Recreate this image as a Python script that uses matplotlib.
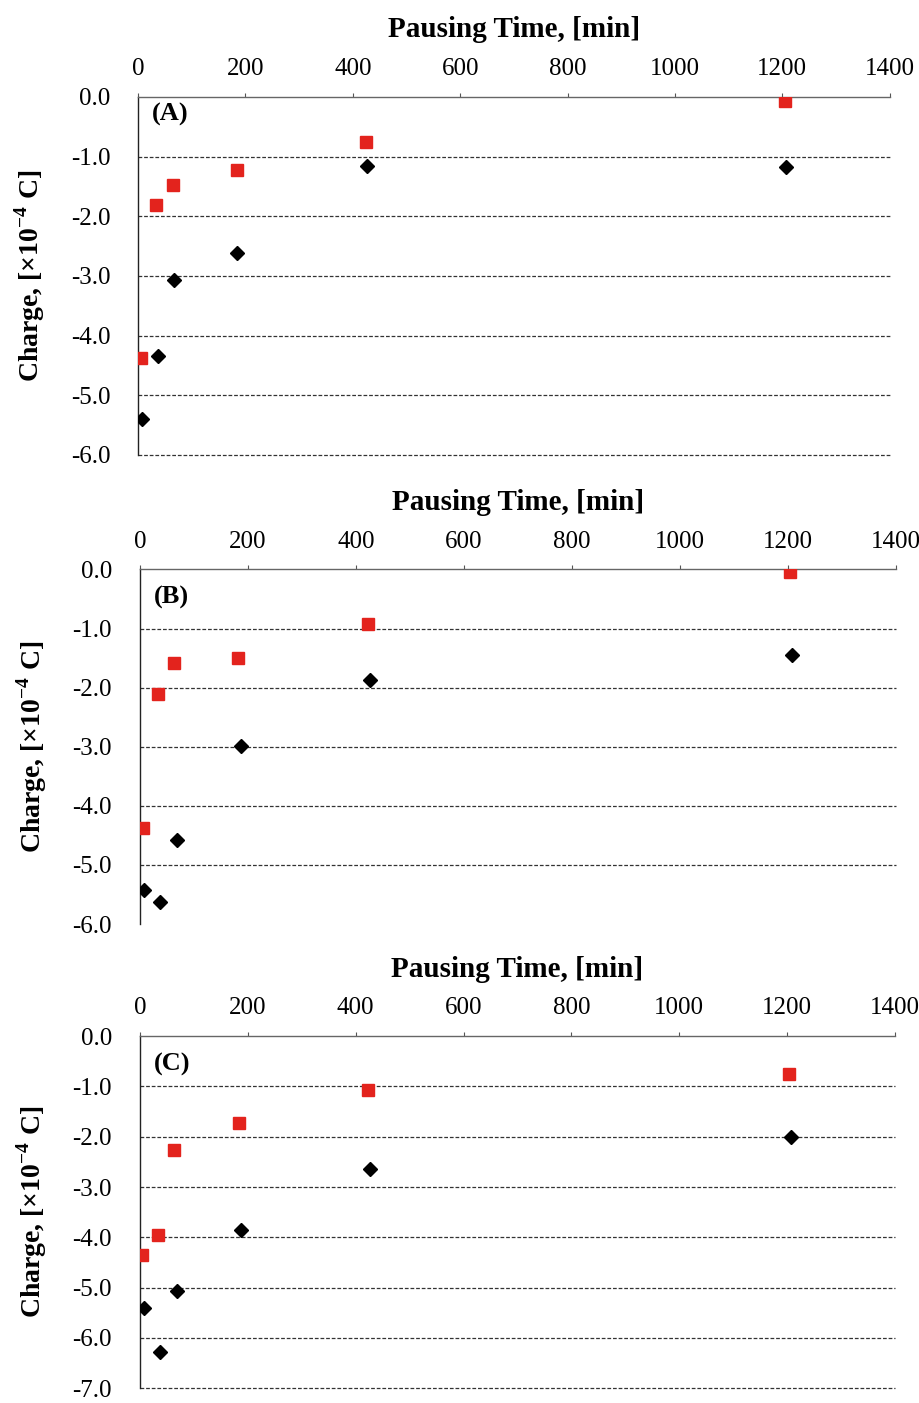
# Charge vs pausing time, three panels (A), (B), (C)
# black diamonds and red squares, x axis on top

import numpy as np
import matplotlib.pyplot as plt
from matplotlib.ticker import MultipleLocator

plt.rcParams['font.family'] = ['Liberation Serif', 'DejaVu Serif']
plt.rcParams['mathtext.fontset'] = 'custom'
plt.rcParams['mathtext.rm'] = 'Liberation Serif'
plt.rcParams['mathtext.bf'] = 'Liberation Serif:bold'

# --------------
# data
# --------------
panel_names = ['(A)', '(B)', '(C)']

# red squares
t_red_A = [6, 34, 65, 184, 425, 1205]
q_red_A = [-4.38, -1.81, -1.47, -1.22, -0.75, -0.06]
t_red_B = [5, 34, 64, 182, 423, 1204]
q_red_B = [-4.38, -2.10, -1.59, -1.49, -0.93, -0.05]
t_red_C = [4, 33, 64, 184, 423, 1203]
q_red_C = [-4.36, -3.96, -2.27, -1.73, -1.07, -0.76]

# black diamonds
t_blk_A = [7, 38, 67, 185, 427, 1207]
q_blk_A = [-5.40, -4.34, -3.07, -2.62, -1.15, -1.17]
t_blk_B = [7, 37, 69, 187, 426, 1207]
q_blk_B = [-5.42, -5.63, -4.58, -2.99, -1.87, -1.44]
t_blk_C = [7, 37, 68, 187, 427, 1207]
q_blk_C = [-5.40, -6.27, -5.06, -3.86, -2.64, -2.01]

y_bottom = [-6.0, -6.0, -7.0]
grid_levels_A = [-1, -2, -3, -4, -5, -6]
grid_levels_B = [-1, -2, -3, -4, -5]
grid_levels_C = [-1, -2, -3, -4, -5, -6, -7]

red_t = [t_red_A, t_red_B, t_red_C]
red_q = [q_red_A, q_red_B, q_red_C]
blk_t = [t_blk_A, t_blk_B, t_blk_C]
blk_q = [q_blk_A, q_blk_B, q_blk_C]
grids = [grid_levels_A, grid_levels_B, grid_levels_C]

# axes boxes in figure fraction [left, bottom, width, height]
boxes = [[0.150, 0.6757, 0.817, 0.2552],
         [0.152, 0.3414, 0.822, 0.2527],
         [0.152, 0.0105, 0.821, 0.2510]]
label_y = [0.95, 0.92, 0.92]

fig = plt.figure(figsize=(9.2, 14.03), dpi=100)

for i in range(3):
    ax = fig.add_axes(boxes[i])

    # dashed horizontal grid
    for g in grids[i]:
        ax.axhline(g, color='#333333', lw=0.9, ls=(0, (3, 1.5)), zorder=1,
                   clip_on=False)

    ax.plot(blk_t[i], blk_q[i], 'D', color='black', ms=7, zorder=3)
    ax.plot(red_t[i], red_q[i], 's', color='#e3231d', ms=8, zorder=3)

    ax.set_xlim(0, 1400)
    ax.set_ylim(y_bottom[i], 0)

    ax.xaxis.set_major_locator(MultipleLocator(200))
    ax.yaxis.set_major_locator(MultipleLocator(1.0))
    ax.yaxis.set_major_formatter(plt.FormatStrFormatter('%.1f'))

    ax.xaxis.tick_top()
    ax.xaxis.set_label_position('top')
    ax.tick_params(axis='x', direction='out', length=3, width=0.8,
                   color='#555555', pad=9, labelsize=18)
    ax.tick_params(axis='y', length=0, pad=20, labelsize=18)

    ax.spines['right'].set_visible(False)
    ax.spines['bottom'].set_visible(False)
    ax.spines['top'].set_color('#666666')
    ax.spines['top'].set_linewidth(1.0)
    ax.spines['left'].set_color('#222222')
    ax.spines['left'].set_linewidth(1.0)

    ax.set_xlabel('Pausing Time, [min]', fontsize=21, fontweight='bold',
                  labelpad=15)
    ax.set_ylabel(r'Charge, [×10$^{\mathbf{-4}}$ C]', fontsize=20,
                  fontweight='bold', labelpad=17)

    ax.text(0.018, label_y[i], panel_names[i], transform=ax.transAxes,
            fontsize=19, fontweight='bold', va='center', ha='left')

plt.savefig('out.png', dpi=100)
